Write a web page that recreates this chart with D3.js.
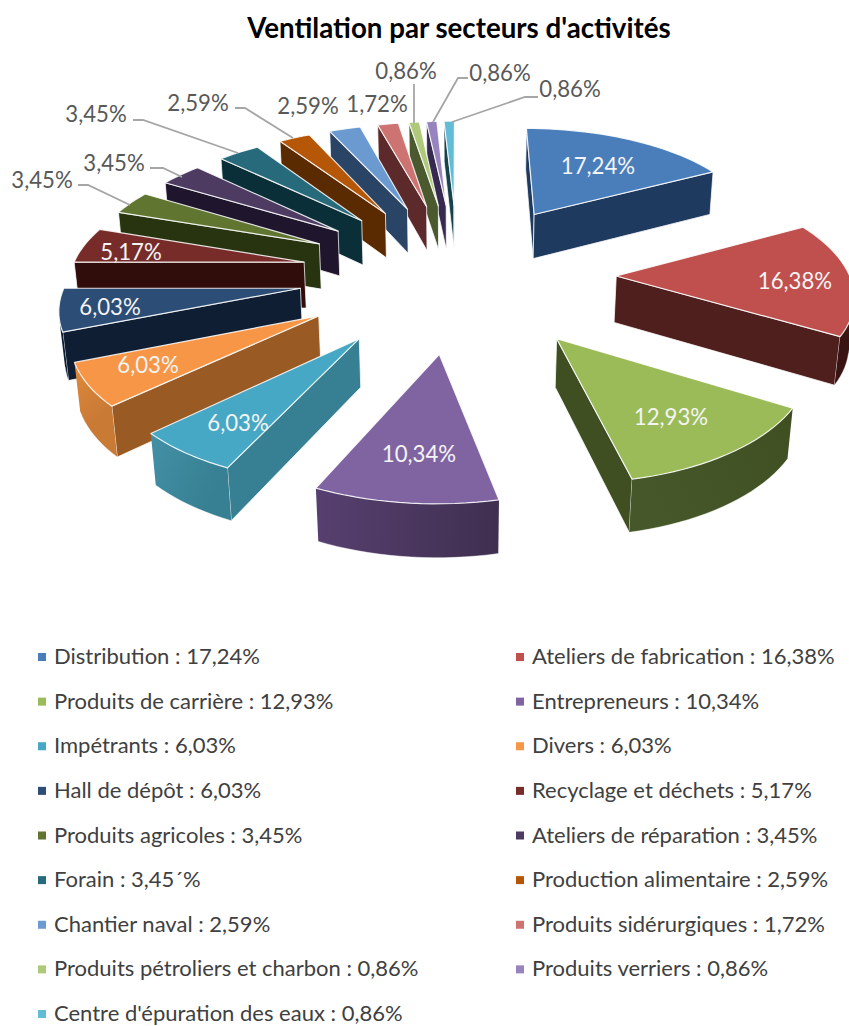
<!DOCTYPE html>
<html>
<head>
<meta charset="utf-8">
<script src="https://cdnjs.cloudflare.com/ajax/libs/d3/7.8.5/d3.min.js"></script>
<style>
  body { margin: 0; background: #fff; }
  svg { display: block; }
  text { font-family: Lato, "Open Sans", sans-serif; }
</style>
</head>
<body>
<div id="chart"></div>
<script>
// Ventilation par secteurs d'activites

var categories = ["Distribution", "Ateliers de fabrication", "Produits de carrière", "Entrepreneurs",
  "Impétrants", "Divers", "Hall de dépôt", "Recyclage et déchets", "Produits agricoles",
  "Ateliers de réparation", "Forain", "Production alimentaire", "Chantier naval",
  "Produits sidérurgiques", "Produits pétroliers et charbon", "Produits verriers",
  "Centre d'épuration des eaux"];
var values = [17.24, 16.38, 12.93, 10.34, 6.03, 6.03, 6.03, 5.17, 3.45, 3.45, 3.45, 2.59, 2.59, 1.72, 0.86, 0.86, 0.86];
// the source has a stray accent in this one legend entry
var legendOverrides = { "Forain": "3,45´%" };

var topColors = ["#4a7ebb", "#c0504d", "#9bbb59", "#8064a2", "#46a8c4", "#f79646", "#2c4d75", "#772c2a",
  "#5f7530", "#4d3b62", "#276a7c", "#b65708", "#6a9ad0", "#cd7371", "#afc97a", "#9783bd", "#62bcd6"];
var sideColors = ["#1f3a5f", "#4f1f1d", "#3f4f22", "#4f3a66", "#377f92", "#995a24", "#0f1e33", "#300c0a",
  "#28340f", "#1f152d", "#0b2f39", "#5a2a00", "#2a4466", "#5c2a2a", "#4a5a2e", "#372a50", "#17414d"];
var arcColors = [["#1f3a5f", "#1f3a5f"], ["#4f1f1d", "#3a1412"], ["#3f4f22", "#46582a"], ["#3f2f50", "#574070"],
  ["#377f92", "#4390a6"], ["#c97a35", "#e08a3c"], ["#0f1e33", "#1a3050"], ["#300c0a", "#300c0a"],
  ["#28340f", "#28340f"], ["#1f152d", "#1f152d"], ["#0b2f39", "#0b2f39"], ["#5a2a00", "#5a2a00"],
  ["#2a4466", "#2a4466"], ["#5c2a2a", "#5c2a2a"], ["#4a5a2e", "#4a5a2e"], ["#372a50", "#372a50"], ["#17414d", "#17414d"]];

// label placement, in slice order. inside labels have no elbow
var labelSpots = [[598, 174], [795, 289], [671, 425], [419, 462], [238, 431], [148, 373], [110, 315], [131, 260],
  [42, 188], [114, 171], [96, 122], [198, 111], [308, 114], [377, 112], [406, 79], [500, 81], [570, 97]];
var leaderElbows = { 8: [[78, 185], [88, 185]], 9: [[150, 168], [163, 168]], 10: [[133, 120], [143, 120]],
  11: [[235, 108], [245, 108]], 14: [[414, 84], [414, 84]], 15: [[468, 78], [458, 78]], 16: [[538, 97], [525, 97]] };
var leaderEnds = { 8: [130, 205], 9: [182, 177], 10: [238, 153], 11: [293, 138], 14: [414, 123], 15: [433, 122], 16: [452, 122] };

var width = 849,
    height = 1026;

// perspective of the pie plane, radius = 1
var cx = 458,
    cy = 274,
    focal = 233,
    squash = 109.6,
    thick = 47,
    vanish = 8.3,
    converge = 0.014,
    explode = 0.678;

var project = function(X, Y, Z) {
  var w = 1 - Y / vanish + Z * converge;
  return [cx + focal * X / w, cy + (squash * Y + thick * Z) / w];
};

var pct = function(v) { return d3.format(".2f")(v).replace(".", ","); };

var svg = d3.select("#chart").append("svg")
  .attr("width", width)
  .attr("height", height);

var defs = svg.append("defs");

svg.append("text")
  .attr("x", 459)
  .attr("y", 38)
  .attr("text-anchor", "middle")
  .attr("font-size", 27.7)
  .attr("font-weight", 700)
  .attr("fill", "#000")
  .text("Ventilation par secteurs d'activités");

var pie = d3.pie().sort(null).value(function(d) { return d; });
var slices = pie(values).map(function(s, i) {
  s.i = i;
  s.mid = (s.startAngle + s.endAngle) / 2;
  return s;
});

var polyPath = d3.line().curve(d3.curveLinearClosed);
var linePath = d3.line();

// back slices first so the nearer ones paint over them
var drawOrder = slices.slice().sort(function(a, b) {
  return d3.descending(Math.cos(a.mid), Math.cos(b.mid));
});

var pieG = svg.append("g");

drawOrder.forEach(function(s) {
  var g = pieG.append("g");
  var ox = explode * Math.sin(s.mid),
      oy = -explode * Math.cos(s.mid);

  var n = Math.max(2, Math.ceil((s.endAngle - s.startAngle) / 0.04));
  var rim = d3.range(n + 1).map(function(k) {
    return s.startAngle + (s.endAngle - s.startAngle) * k / n;
  });

  var pt = function(a, rho, z) {
    return project(ox + rho * Math.sin(a), oy - rho * Math.cos(a), z);
  };

  var tipTop = pt(0, 0, 0),
      tipBot = pt(0, 0, 1);
  var rimTop = rim.map(function(a) { return pt(a, 1, 0); }),
      rimBot = rim.map(function(a) { return pt(a, 1, 1); });
  var topFace = [tipTop].concat(rimTop);
  var sign = Math.sign(d3.polygonArea(topFace));

  var visible = function(poly) {
    return Math.sign(d3.polygonArea(poly)) === sign;
  };

  // cut faces
  var startFace = [rimTop[0], tipTop, tipBot, rimBot[0]],
      endFace = [tipTop, rimTop[n], rimBot[n], tipBot];
  [startFace, endFace].forEach(function(face) {
    if (!visible(face)) return;
    g.append("path")
      .attr("d", polyPath(face))
      .attr("fill", sideColors[s.i])
      .attr("stroke", "#fff")
      .attr("stroke-opacity", 0.75)
      .attr("stroke-width", 1);
  });

  // rim, only the stretch that faces the viewer
  var shown = d3.range(n).filter(function(k) {
    return visible([rimTop[k + 1], rimTop[k], rimBot[k], rimBot[k + 1]]);
  });
  if (shown.length) {
    var first = d3.min(shown),
        last = d3.max(shown) + 1;
    var gradId = "rim" + s.i;
    var grad = defs.append("linearGradient")
      .attr("id", gradId)
      .attr("gradientUnits", "userSpaceOnUse")
      .attr("x1", rimTop[first][0])
      .attr("y1", rimTop[first][1])
      .attr("x2", rimTop[last][0])
      .attr("y2", rimTop[last][1]);
    grad.append("stop").attr("offset", 0).attr("stop-color", arcColors[s.i][0]);
    grad.append("stop").attr("offset", 1).attr("stop-color", arcColors[s.i][1]);

    var upper = rimTop.slice(first, last + 1),
        lower = rimBot.slice(first, last + 1);
    g.append("path")
      .attr("d", polyPath(upper.concat(lower.slice().reverse())))
      .attr("fill", "url(#" + gradId + ")");
    g.append("path")
      .attr("d", linePath(lower))
      .attr("fill", "none")
      .attr("stroke", "#fff")
      .attr("stroke-opacity", 0.6)
      .attr("stroke-width", 0.8);
  }

  g.append("path")
    .attr("d", polyPath(topFace))
    .attr("fill", topColors[s.i])
    .attr("stroke", "#fff")
    .attr("stroke-opacity", 0.85)
    .attr("stroke-width", 1.2)
    .attr("stroke-linejoin", "round");
});

// leader lines
var leaderG = svg.append("g");
Object.keys(leaderElbows).forEach(function(key) {
  leaderG.append("path")
    .attr("d", linePath(leaderElbows[key].concat([leaderEnds[key]])))
    .attr("fill", "none")
    .attr("stroke", "#a6a6a6")
    .attr("stroke-width", 1.8);
});

// data labels
svg.append("g").selectAll("text")
  .data(slices)
  .enter()
  .append("text")
  .attr("x", function(d) { return labelSpots[d.i][0]; })
  .attr("y", function(d) { return labelSpots[d.i][1]; })
  .attr("text-anchor", "middle")
  .attr("font-size", 22.2)
  .attr("fill", function(d) { return d.i < 8 ? "#f4f4f4" : "#595959"; })
  .text(function(d) { return pct(values[d.i]) + "%"; });

// legend, two columns filled row by row
var legendRow = d3.scaleLinear().domain([0, 8]).range([657, 1014]);
var legendCol = d3.scaleOrdinal().domain([0, 1]).range([38, 516]);

var legendItems = svg.append("g").selectAll("g")
  .data(categories)
  .enter()
  .append("g")
  .attr("transform", function(d, i) {
    return "translate(" + legendCol(i % 2) + "," + legendRow(Math.floor(i / 2)) + ")";
  });

legendItems.append("rect")
  .attr("x", 0)
  .attr("y", -4)
  .attr("width", 8)
  .attr("height", 8)
  .attr("fill", function(d, i) { return topColors[i]; });

legendItems.append("text")
  .attr("x", 16)
  .attr("y", 7)
  .attr("font-size", 22)
  .attr("fill", "#404040")
  .text(function(d, i) {
    return d + " : " + (legendOverrides[d] || pct(values[i]) + "%");
  });
</script>
</body>
</html>
